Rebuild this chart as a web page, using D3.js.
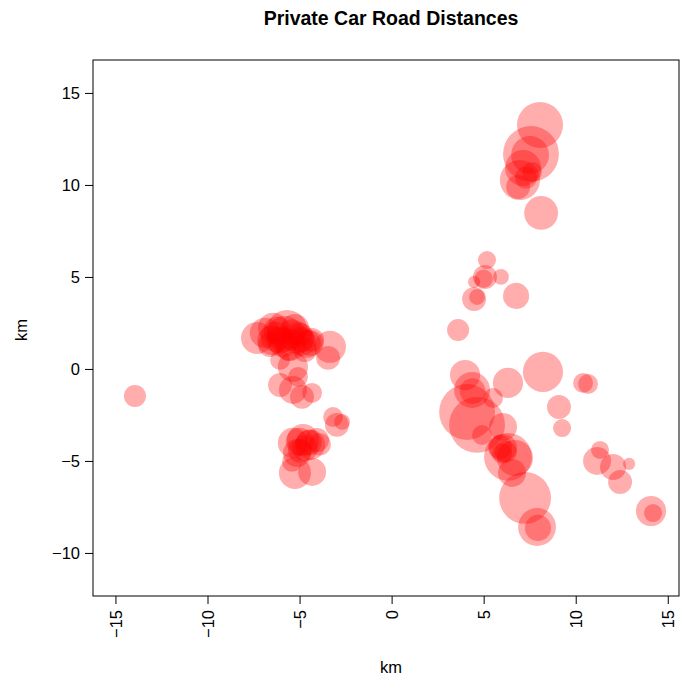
<!DOCTYPE html>
<meta charset="utf-8">
<script src="https://d3js.org/d3.v7.min.js"></script>
<style>
body { margin: 0; background: #fff; }
svg { font-family: "Liberation Sans", Arial, sans-serif; }
.tick text { font-size: 16.5px; fill: #000; }
</style>
<body></body>
<script>

// bubble centres (km) and radius (km)
var posX = [-13.94,
  8.06, 7.57, 7.52, 7.14, 6.97, 6.87, 7.63, 8.12, 7.30,
  5.18, 5.07, 5.94, 4.48, 4.48, 4.64, 6.76, 3.61, 5.00,
  3.99, 4.37, 6.32, 8.22, 4.10, 4.64, 4.91, 5.51, 6.05, 5.89, 6.05, 6.32, 6.70, 6.54,
  7.25, 7.90, 7.95, 9.26, 10.40, 10.67, 9.09, 11.16, 11.32, 12.03, 12.41, 12.90, 14.09, 14.20,
  4.40, 6.20, 6.00,
  -7.31, -6.88, -6.44, -5.68, -5.25, -4.87, -4.32, -3.35, -3.45, -6.06, -5.36, -6.06, -5.08,
  -5.36, -4.87, -4.32, -6.06, -5.52, -4.98, -6.61, -4.70, -5.80, -5.10, -4.60, -6.30,
  -5.90, -5.40, -6.20, -4.90, -5.60, -4.40, -6.50,
  -3.18, -2.97, -2.69, -5.36, -4.81, -4.43, -4.05, -5.14, -5.25, -4.32, -5.41, -4.98, -3.90,
  -4.70, -5.00, -4.50];
var posY = [-1.47,
  13.26, 11.68, 11.63, 10.92, 10.27, 9.89, 10.71, 8.48, 10.40,
  5.92, 5.00, 5.00, 4.73, 3.80, 3.91, 3.97, 2.12, 4.90,
  -0.33, -1.14, -0.76, -0.16, -2.34, -3.04, -3.59, -1.58, -3.15, -4.24, -4.29, -4.78, -4.84, -5.65,
  -7.01, -8.59, -8.64, -3.21, -0.76, -0.82, -2.07, -5.00, -4.40, -5.33, -6.14, -5.16, -7.72, -7.83,
  -1.20, -4.50, -4.60,
  1.68, 1.96, 2.23, 2.12, 2.23, 1.47, 1.58, 1.20, 0.60, 0.49, 0.11, -0.87, -0.43,
  -1.14, -1.52, -1.30, 1.58, 1.30, 1.85, 1.30, 1.03, 1.90, 1.70, 1.35, 1.75,
  1.45, 2.00, 2.10, 1.60, 1.10, 1.40, 1.55,
  -2.61, -3.04, -2.88, -4.02, -3.86, -4.13, -3.86, -4.57, -5.65, -5.60, -5.05, -4.45, -4.10,
  -4.30, -3.95, -4.00];
var radius = [0.60,
  1.25, 1.52, 1.03, 0.98, 1.09, 0.65, 0.54, 0.92, 0.60,
  0.49, 0.65, 0.43, 0.33, 0.65, 0.43, 0.71, 0.60, 0.50,
  0.82, 0.98, 0.82, 1.09, 1.52, 1.52, 0.54, 0.54, 0.76, 0.65, 0.76, 1.30, 0.98, 0.76,
  1.41, 1.03, 0.71, 0.49, 0.54, 0.54, 0.65, 0.76, 0.49, 0.71, 0.65, 0.33, 0.82, 0.49,
  0.70, 0.60, 0.55,
  0.87, 0.82, 0.82, 1.09, 0.76, 0.76, 0.65, 0.87, 0.65, 0.54, 0.82, 0.65, 0.54,
  0.76, 0.65, 0.54, 0.76, 0.87, 0.65, 0.65, 0.65, 0.98, 0.87, 0.76, 0.82,
  0.80, 0.70, 0.75, 0.70, 0.65, 0.70, 0.80,
  0.54, 0.65, 0.43, 0.82, 0.87, 0.82, 0.65, 0.76, 0.87, 0.76, 0.54, 0.65, 0.60,
  0.70, 0.75, 0.70];

var xTicks = [-15, -10, -5, 0, 5, 10, 15];
var yTicks = [-10, -5, 0, 5, 10, 15];

var data = posX.map(function(d, i) { return {x: d, y: posY[i], r: radius[i]}; });

var width = 680, height = 677;
var box = {left: 93, top: 60, right: 679, bottom: 596};

var svg = d3.select('body').append('svg')
  .attr('width', width)
  .attr('height', height);

var xScale = d3.scaleLinear()
  .domain([-16.22, 15.61])
  .range([box.left, box.right]);

var yScale = d3.scaleLinear()
  .domain([-12.34, 16.79])
  .range([box.bottom, box.top]);

// km -> px for radii
var rScale = d3.scaleLinear()
  .domain([0, 1])
  .range([0, yScale(0) - yScale(1)]);

var plot = svg.append('g');
plot.append('clipPath').attr('id', 'clip')
  .append('rect')
  .attr('x', box.left).attr('y', box.top)
  .attr('width', box.right - box.left).attr('height', box.bottom - box.top);

plot.append('g')
  .attr('clip-path', 'url(#clip)')
  .selectAll('circle')
  .data(data).enter().append('circle')
  .attr('cx', d => xScale(d.x))
  .attr('cy', d => yScale(d.y))
  .attr('r', d => rScale(d.r))
  .style('fill', 'rgba(255,0,0,0.32)');

// frame
svg.append('rect')
  .attr('x', box.left).attr('y', box.top)
  .attr('width', box.right - box.left).attr('height', box.bottom - box.top)
  .style('fill', 'none').style('stroke', '#000').style('stroke-width', 1);

// axes
var xAxis = svg.append('g')
  .attr('transform', 'translate(0,' + box.bottom + ')')
  .call(d3.axisBottom(xScale).tickValues(xTicks).tickSize(8).tickSizeOuter(0)
    .tickFormat(d => String(d).replace('-', '\u2212')));
xAxis.select('.domain').remove();
xAxis.selectAll('.tick line').style('stroke', '#000');
xAxis.selectAll('.tick text')
  .attr('transform', 'rotate(-90)')
  .attr('x', -14).attr('y', 0).attr('dy', '0.35em')
  .style('text-anchor', 'end');

var yAxis = svg.append('g')
  .attr('transform', 'translate(' + box.left + ',0)')
  .call(d3.axisLeft(yScale).tickValues(yTicks).tickSize(8).tickSizeOuter(0)
    .tickFormat(d => String(d).replace('-', '\u2212')));
yAxis.select('.domain').remove();
yAxis.selectAll('.tick line').style('stroke', '#000');
yAxis.selectAll('.tick text').attr('x', -13);

// titles
svg.append('text')
  .attr('x', 391).attr('y', 25)
  .style('text-anchor', 'middle')
  .style('font-size', '19.5px').style('font-weight', 'bold')
  .text('Private Car Road Distances');

svg.append('text')
  .attr('x', 391).attr('y', 673)
  .style('text-anchor', 'middle').style('font-size', '16.5px')
  .text('km');

svg.append('text')
  .attr('transform', 'translate(27,330) rotate(-90)')
  .style('text-anchor', 'middle').style('font-size', '16.5px')
  .text('km');

</script>
